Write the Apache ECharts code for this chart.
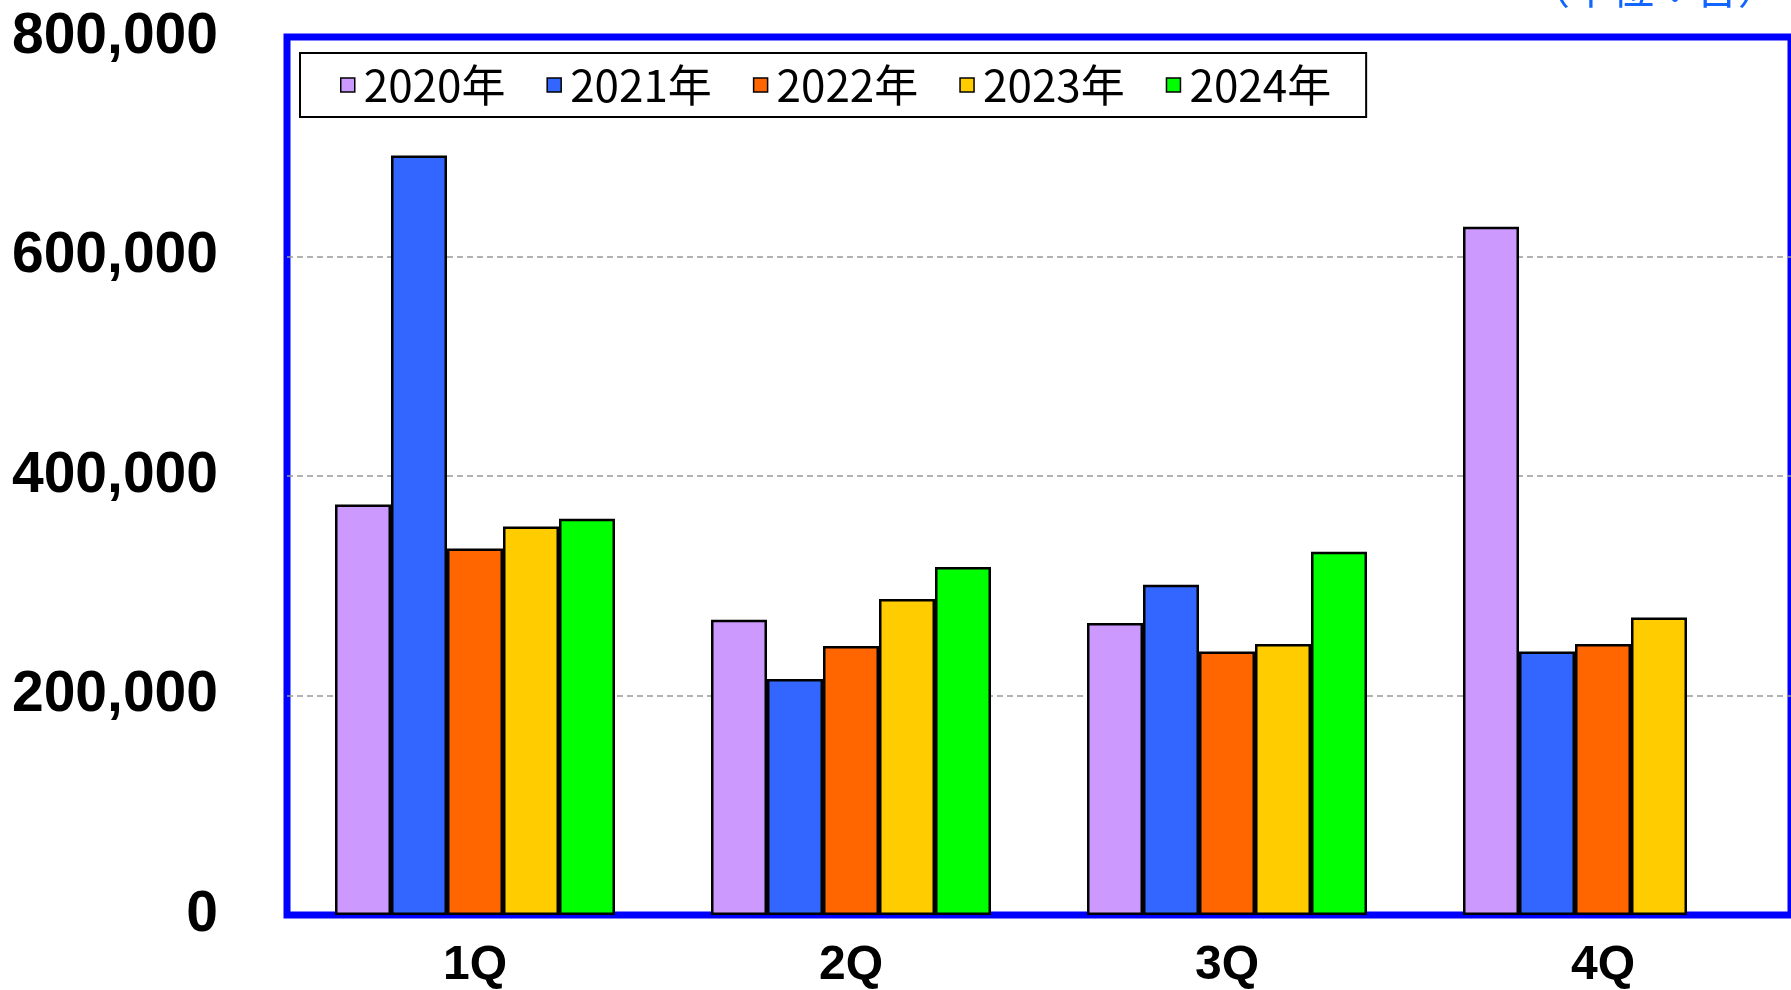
<!DOCTYPE html>
<html><head><meta charset="utf-8">
<script src="https://cdn.jsdelivr.net/npm/echarts@6/dist/echarts.min.js"></script>
<style>html,body{margin:0;padding:0;background:#fff}#c{width:1791px;height:990px}</style>
</head><body><div id="c"></div>
<script>
const categories = ['1Q', '2Q', '3Q', '4Q'];
const years = ['2020年', '2021年', '2022年', '2023年', '2024年'];
const v2020 = [374000, 269000, 266000, 627000];
const v2021 = [692000, 215000, 301000, 240000];
const v2022 = [334000, 245000, 240000, 247000];
const v2023 = [354000, 288000, 247000, 271000];
const v2024 = [361000, 317000, 331000, null];
const yMin = 0, yMax = 800000, yStep = 200000;
const unitText = '（単位：台）';

const seriesData = [v2020, v2021, v2022, v2023, v2024];
const colors = ['#CC99FF', '#3366FF', '#FF6600', '#FFCC00', '#00FF00'];

const chart = echarts.init(document.getElementById('c'), null, {renderer: 'canvas'});
chart.setOption({
  animation: false,
  backgroundColor: '#fff',
  grid: {
    left: 287, top: 37, width: 1510, height: 884,
    show: true, backgroundColor: '#fff', borderColor: '#0000FF', borderWidth: 7
  },
  legend: {
    data: years,
    left: 300, top: 53,
    orient: 'horizontal',
    borderColor: '#000', borderWidth: 2,
    padding: [10, 35, 10, 40],
    backgroundColor: '#fff',
    icon: 'rect', itemWidth: 14, itemHeight: 14, itemGap: 41,
    itemStyle: {borderColor: '#000', borderWidth: 1.5},
    textStyle: {fontFamily: 'Noto Sans CJK JP', fontSize: 44, color: '#000', padding: [0, 0, 0, 4]}
  },
  xAxis: {
    type: 'category', data: categories,
    axisLine: {show: false}, axisTick: {show: false},
    axisLabel: {fontFamily: 'Liberation Sans', fontWeight: 'bold', fontSize: 48, color: '#000', margin: 27}
  },
  yAxis: {
    type: 'value', min: yMin, max: yMax, interval: yStep,
    axisLine: {show: false}, axisTick: {show: false},
    splitLine: {show: true, showMinLine: false, showMaxLine: false, lineStyle: {color: '#999', width: 1.5, type: [6, 4]}},
    axisLabel: {
      fontFamily: 'Liberation Sans', fontWeight: 'bold', fontSize: 57, color: '#000', margin: 69,
      formatter: v => v.toLocaleString('en-US')
    }
  },
  series: years.map((y, i) => ({
    name: y, type: 'bar', data: seriesData[i],
    barWidth: 56, barGap: '0%',
    itemStyle: {color: colors[i], borderColor: '#000', borderWidth: 2.5}
  })),
  graphic: [{
    type: 'text', left: 1528, top: -33, z: 100,
    style: {text: unitText, fontFamily: 'Noto Sans CJK JP', fontSize: 42, fill: '#1166FF'}
  }]
});
</script></body></html>
